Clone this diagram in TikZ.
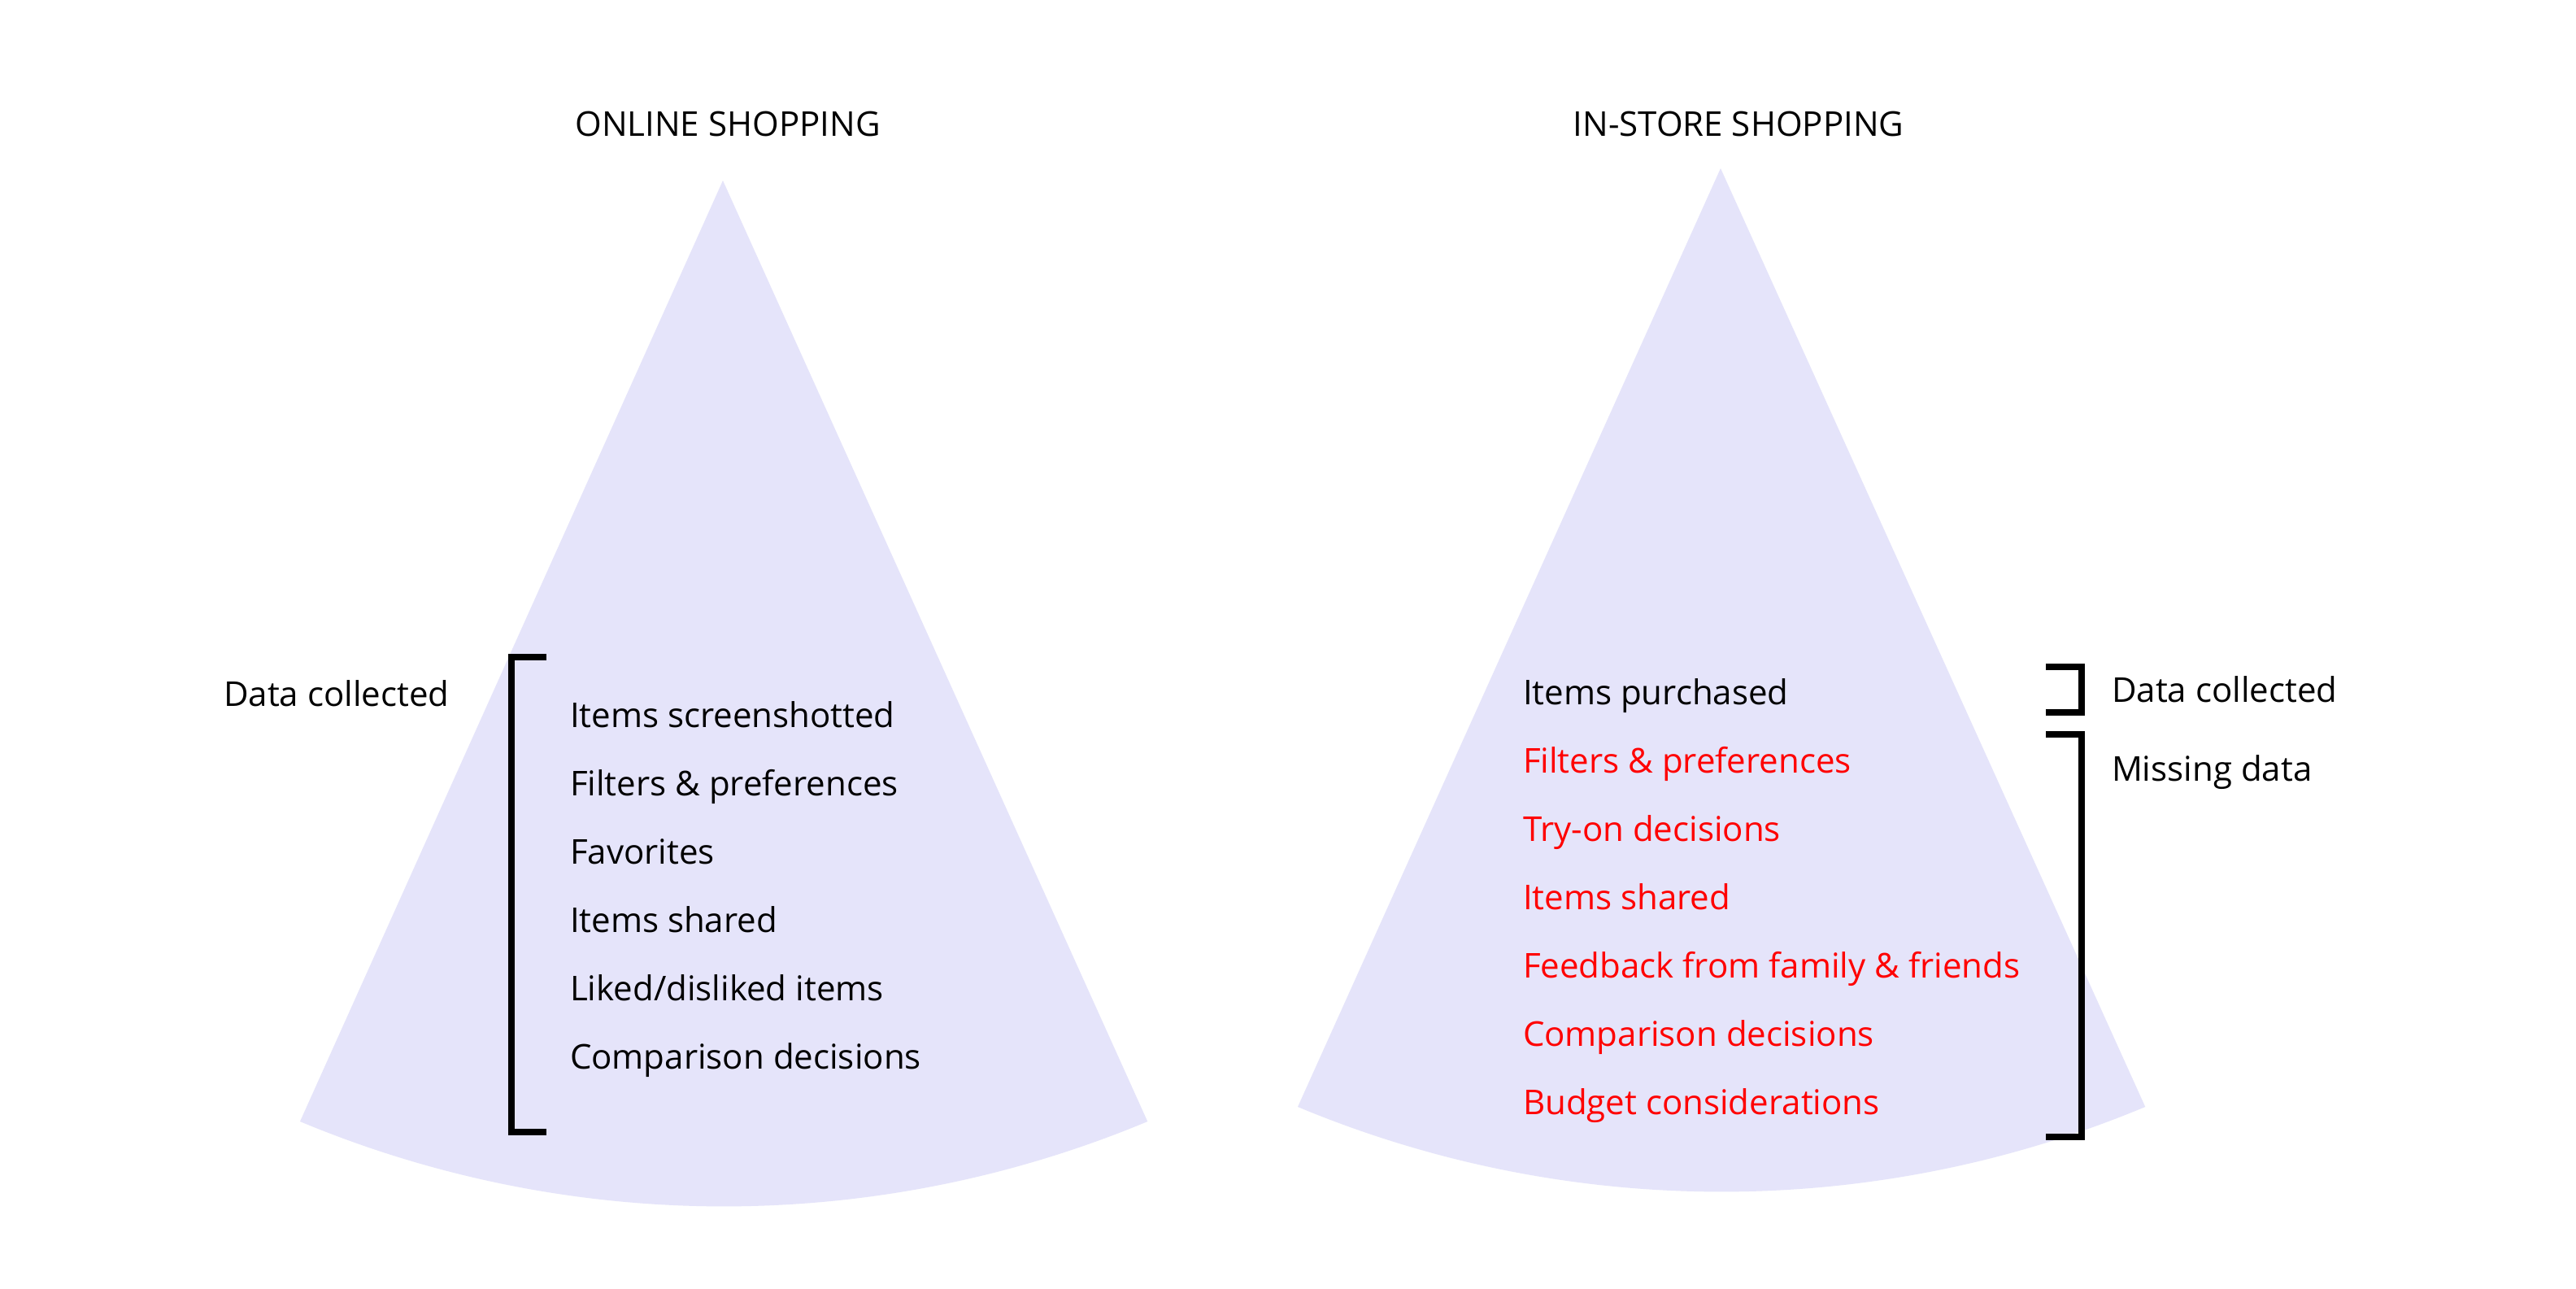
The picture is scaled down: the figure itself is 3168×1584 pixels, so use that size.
\documentclass[tikz,border=0pt]{standalone}
\usepackage{fontspec}
\setmainfont{Open Sans}
\definecolor{conefill}{HTML}{E5E4FA}
\definecolor{missred}{HTML}{FF0000}
\begin{document}
\begin{tikzpicture}[x=0.01cm,y=-0.01cm,
  lbl/.style={inner sep=0pt,outer sep=0pt,anchor=base west,font=\fontsize{11.95pt}{14pt}\selectfont},
  ttl/.style={inner sep=0pt,outer sep=0pt,anchor=base,font=\fontsize{11.95pt}{14pt}\selectfont},
  miss/.style={lbl,text=missred},
  brk/.style={line width=2.3pt,line cap=butt,line join=miter}]
\useasboundingbox[fill=white] (0,0) rectangle (3168,1584);
% cones
\fill[conefill] (889,222) -- (369,1379) arc[start angle=-112.66,end angle=-67.34,radius=13.52cm] -- cycle;
\fill[conefill] (2116,207) -- (1596,1361) arc[start angle=-112.66,end angle=-67.34,radius=13.52cm] -- cycle;
% titles
\node[ttl] (t1) at (895,167) {ONLINE SHOPPING};
\node[ttl] (t2) at (2138,167) {IN-STORE SHOPPING};
% left side
\node[lbl] (dc1) at (275,868) {Data collected};
\draw[brk] (672,808) -- (629,808) -- (629,1392) -- (672,1392);
\node[lbl] (l1) at (701,894) {Items screenshotted};
\node[lbl] (l2) at (701,978) {Filters \& preferences};
\node[lbl] (l3) at (701,1062) {Favorites};
\node[lbl] (l4) at (701,1146) {Items shared};
\node[lbl] (l5) at (701,1230) {Liked/disliked items};
\node[lbl] (l6) at (701,1314) {Comparison decisions};
% right side
\node[lbl] (r1) at (1873,866) {Items purchased};
\node[miss] (r2) at (1873,950) {Filters \& preferences};
\node[miss] (r3) at (1873,1034) {Try-on decisions};
\node[miss] (r4) at (1873,1118) {Items shared};
\node[miss] (r5) at (1873,1202) {Feedback from family \& friends};
\node[miss] (r6) at (1873,1286) {Comparison decisions};
\node[miss] (r7) at (1873,1370) {Budget considerations};
\draw[brk] (2516,820) -- (2560,820) -- (2560,876) -- (2516,876);
\draw[brk] (2516,903) -- (2560,903) -- (2560,1398) -- (2516,1398);
\node[lbl] (dc2) at (2597,863) {Data collected};
\node[lbl] (md) at (2597,960) {Missing data};
\end{tikzpicture}
\end{document}
